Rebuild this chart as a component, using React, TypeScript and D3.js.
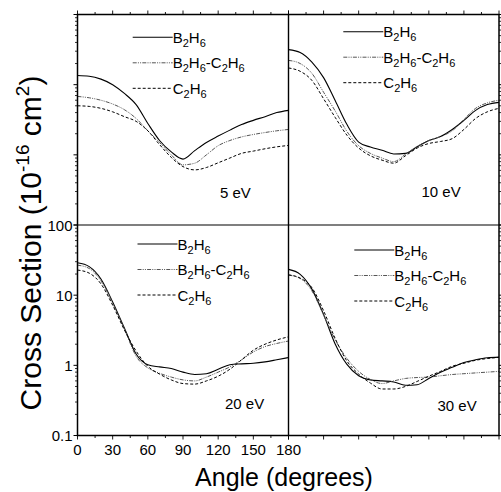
import React from "react";
import * as d3 from "d3";

const angles = [0, 10, 20, 30, 40, 50, 60, 70, 80, 90, 100, 110, 120, 130, 140, 150, 160, 170, 180];

const b2h6_5 = [13.5, 13.2, 12, 10, 7.5, 5.2, 2.8, 1.6, 1.1, 0.87, 1.15, 1.5, 1.85, 2.25, 2.7, 3.1, 3.5, 4.0, 4.3];
const mix_5 = [6.8, 6.5, 6.0, 5.3, 4.4, 3.3, 2.2, 1.5, 1.0, 0.72, 0.76, 1.0, 1.35, 1.6, 1.8, 1.95, 2.08, 2.2, 2.3];
const c2h6_5 = [5.0, 4.9, 4.6, 4.1, 3.5, 3.0, 2.2, 1.4, 0.92, 0.68, 0.61, 0.66, 0.77, 0.9, 1.05, 1.13, 1.22, 1.3, 1.36];

const b2h6_10 = [31.6, 28.8, 21, 12.6, 5.9, 2.7, 1.52, 1.29, 1.16, 1.03, 1.05, 1.3, 1.6, 1.82, 2.3, 3.1, 4.3, 5.2, 5.6];
const mix_10 = [22.2, 20, 14.5, 7.8, 4.2, 2.15, 1.35, 1.05, 0.9, 0.8, 1.02, 1.32, 1.6, 1.82, 2.2, 3.2, 4.6, 5.5, 6.0];
const c2h6_10 = [17.3, 15.5, 11.5, 6.3, 3.4, 1.9, 1.25, 0.97, 0.84, 0.76, 0.97, 1.25, 1.45, 1.55, 1.7, 2.3, 3.3, 4.1, 4.6];

const b2h6_20 = [28.9, 25.5, 17, 8, 3.4, 1.45, 1.02, 0.95, 0.9, 0.8, 0.74, 0.76, 0.88, 1.02, 1.05, 1.07, 1.12, 1.2, 1.29];
const mix_20 = [26.8, 24, 16, 7.7, 3.3, 1.35, 0.92, 0.77, 0.68, 0.62, 0.6, 0.68, 0.8, 0.95, 1.2, 1.55, 1.85, 2.05, 2.22];
const c2h6_20 = [22.8, 20.6, 14.5, 7.2, 3.2, 1.6, 0.97, 0.75, 0.62, 0.55, 0.54, 0.6, 0.7, 0.88, 1.2, 1.64, 2.0, 2.3, 2.55];

const b2h6_30 = [23.3, 19.8, 12.2, 5.3, 2.0, 1.03, 0.71, 0.62, 0.6, 0.58, 0.52, 0.53, 0.65, 0.8, 0.94, 1.1, 1.2, 1.28, 1.31];
const mix_30 = [19.3, 17.3, 11.5, 5.2, 2.3, 1.25, 0.82, 0.63, 0.55, 0.6, 0.65, 0.67, 0.68, 0.71, 0.74, 0.76, 0.78, 0.8, 0.82];
const c2h6_30 = [19.5, 17.5, 12.8, 6.0, 2.4, 1.15, 0.75, 0.56, 0.46, 0.46, 0.5, 0.59, 0.7, 0.82, 0.97, 1.07, 1.18, 1.25, 1.3];

const energyLabels = ["5 eV", "10 eV", "20 eV", "30 eV"];
const xTickLabels = [0, 30, 60, 90, 120, 150, 180];
const yTickLabels = [100, 10, 1, 0.1];

// legend label pieces: [text, isSubscript]
const legendParts: [string, boolean][][] = [
  [["B", false], ["2", true], ["H", false], ["6", true]],
  [["B", false], ["2", true], ["H", false], ["6", true], ["-C", false], ["2", true], ["H", false], ["6", true]],
  [["C", false], ["2", true], ["H", false], ["6", true]],
];

const FONT = "Liberation Sans, Arial, sans-serif";
const L = 77.5, M = 288.5, R = 499, T = 14.5, H = 225, B = 435.5;

const styles = [
  { stroke: "#000", dash: "none", width: 1.1 },
  { stroke: "#555", dash: "4 1.2 1 1.2 1 1.2", width: 1 },
  { stroke: "#000", dash: "3 2", width: 1 },
];

const panels = [
  { series: [b2h6_5, mix_5, c2h6_5], col: 0, row: 0, label: energyLabels[0], lab: [220, 198], leg: [132.7, 37.3] },
  { series: [b2h6_10, mix_10, c2h6_10], col: 1, row: 0, label: energyLabels[1], lab: [421.5, 197], leg: [343.3, 31.7] },
  { series: [b2h6_20, mix_20, c2h6_20], col: 0, row: 1, label: energyLabels[2], lab: [225, 409], leg: [137.5, 244] },
  { series: [b2h6_30, mix_30, c2h6_30], col: 1, row: 1, label: energyLabels[3], lab: [437.5, 411], leg: [354.3, 250] },
];

function LegendText({ x, y, kind }: { x: number; y: number; kind: number }) {
  const parts = legendParts[kind];
  return (
    <text x={x} y={y} fontFamily={FONT} fontSize={15}>
      {parts.map(([t, sub], i) => {
        const prevSub = i > 0 && parts[i - 1][1];
        const dy = sub ? 4 : prevSub ? -4 : 0;
        return (
          <tspan key={i} dy={dy} fontSize={sub ? 11 : 15}>{t}</tspan>
        );
      })}
    </text>
  );
}

export default function App() {
  const minors: number[] = [];
  for (let e = -1; e < 2; e++) for (let k = 2; k <= 9; k++) minors.push(k * Math.pow(10, e));
  const xt: number[] = d3.range(0, 181, 15);

  return (
    <svg width={501} height={492} style={{ position: "absolute", left: 0, top: 0 }}>
      <rect width={501} height={492} fill="#fff" />
      {panels.map((p, i) => {
        const x = d3.scaleLinear().domain([0, 180]).range(p.col === 0 ? [L, M] : [M, R]);
        const y = d3.scaleLog().domain([0.1, 100]).range(p.row === 0 ? [H, T] : [B, H]);
        const line = d3
          .line<number>()
          .x((_, j) => x(angles[j]))
          .y((v) => y(v))
          .curve(d3.curveMonotoneX);
        return (
          <g key={i}>
            {p.series.map((s, k) => (
              <path key={k} d={line(s) || ""} fill="none" stroke={styles[k].stroke}
                strokeWidth={styles[k].width} strokeDasharray={styles[k].dash} />
            ))}
            {[0, 1, 2].map((k) => {
              const ly = p.leg[1] + k * 25.5;
              return (
                <g key={k}>
                  <line x1={p.leg[0]} x2={p.leg[0] + 40} y1={ly} y2={ly} stroke={styles[k].stroke}
                    strokeWidth={styles[k].width} strokeDasharray={styles[k].dash} />
                  <LegendText x={p.leg[0] + 40} y={ly + 5.5} kind={k} />
                </g>
              );
            })}
            <text x={p.lab[0]} y={p.lab[1]} fontFamily={FONT} fontSize={15}>{p.label}</text>
            {[0.1, 1, 10, 100].map((v) =>
              p.col === 0 ? (
                <line key={"M" + v} x1={L - 4} x2={L} y1={y(v)} y2={y(v)} stroke="#000" />
              ) : (
                <line key={"M" + v} x1={R} x2={R + 4} y1={y(v)} y2={y(v)} stroke="#000" />
              )
            )}
            {minors.map((v) =>
              p.col === 0 ? (
                <line key={"m" + v} x1={L - 2.5} x2={L} y1={y(v)} y2={y(v)} stroke="#000" strokeWidth={0.8} />
              ) : (
                <line key={"m" + v} x1={R} x2={R + 2.5} y1={y(v)} y2={y(v)} stroke="#000" strokeWidth={0.8} />
              )
            )}
            {xt.map((a) => {
              const len = a % 30 === 0 ? 4 : 2.5;
              return p.row === 0 ? (
                <line key={"x" + a} x1={x(a)} x2={x(a)} y1={T - len} y2={T} stroke="#000" strokeWidth={0.9} />
              ) : (
                <line key={"x" + a} x1={x(a)} x2={x(a)} y1={B} y2={B + len} stroke="#000" strokeWidth={0.9} />
              );
            })}
          </g>
        );
      })}
      <rect x={L} y={T} width={R - L} height={B - T} fill="none" stroke="#000" strokeWidth={1.5} />
      <line x1={L} x2={R} y1={H} y2={H} stroke="#000" strokeWidth={1.1} />
      <line x1={M} x2={M} y1={T} y2={B} stroke="#000" strokeWidth={1.4} />
      {(() => {
        const y = d3.scaleLog().domain([0.1, 100]).range([B, H]);
        const x = d3.scaleLinear().domain([0, 180]).range([L, M]);
        return (
          <g fontFamily={FONT} fontSize={15}>
            {yTickLabels.map((v) => (
              <text key={v} x={L - 5} y={y(v) + 5.5} textAnchor="end">{String(v)}</text>
            ))}
            {xTickLabels.map((a) => (
              <text key={a} x={x(a)} y={455} textAnchor="middle">{a}</text>
            ))}
          </g>
        );
      })()}
      <text x={284} y={486} textAnchor="middle" fontFamily={FONT} fontSize={25}>Angle (degrees)</text>
      <text transform="translate(41,243) rotate(-90)" textAnchor="middle" fontFamily={FONT} fontSize={30}>
        Cross Section (10<tspan dy={-12} fontSize={19}>-16</tspan><tspan dy={12}> cm</tspan>
        <tspan dy={-12} fontSize={19}>2</tspan><tspan dy={12}>)</tspan>
      </text>
    </svg>
  );
}
